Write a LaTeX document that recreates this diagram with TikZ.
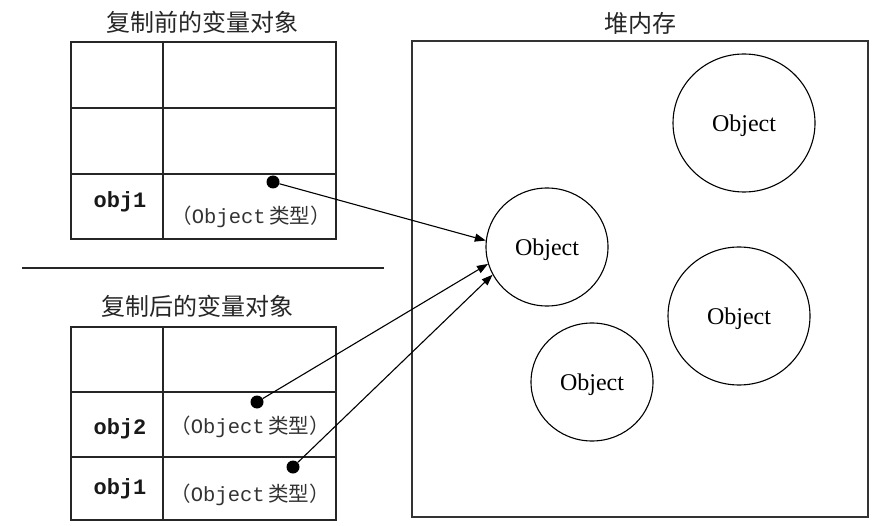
\documentclass[tikz,border=0pt]{standalone}
\usepackage{fontspec}
\setmainfont{Liberation Serif}
\setmonofont{Liberation Mono}
\newfontfamily\cjk{Noto Sans CJK SC}
\usetikzlibrary{positioning,shapes.geometric,arrows.meta}

% type label inside a variable cell
\newcommand{\objtype}{{\cjk （}{\ttfamily Object}\,{\cjk 类型）}}

\begin{document}
\begin{tikzpicture}[x=1pt, y=-1pt,
    grid/.style={line width=1.6pt, draw=black!85},
    title/.style={font=\cjk\fontsize{24}{26}\selectfont, text=black!85},
    varname/.style={font=\ttfamily\bfseries\fontsize{22}{24}\selectfont, text=black!90},
    typelabel/.style={font=\fontsize{20.5}{22}\selectfont, text=black!80, inner sep=0pt},
    pointer/.style={circle, fill=black, inner sep=0pt, minimum size=13pt},
    heapbox/.style={draw=black!80, line width=1.3pt, minimum width=456pt, minimum height=476pt},
    heapobj/.style={ellipse, draw=black, line width=1.1pt, inner sep=0pt, text depth=0pt, font=\fontsize{24}{26}\selectfont},
    bigobj/.style={heapobj, minimum width=142pt, minimum height=138pt},
    smallobj/.style={heapobj, minimum width=122pt, minimum height=118pt},
    ref/.style={-{Triangle[length=11pt, width=8pt]}, line width=1.1pt}
]
    \useasboundingbox (0,0) rectangle (882,526);

    % --- Before copy ---
    \node[title] (before) at (202,22) {复制前的变量对象};
    \draw[grid] (71,42) rectangle (336,239);
    \draw[grid] (163,42) -- (163,239);
    \foreach \y in {108,174} {
        \draw[grid] (71,\y) -- (336,\y);
    }
    \node[varname] (a1) at (120,202) {obj1};
    \node[typelabel] (ta1) at (251,217) {\objtype};
    \node[pointer] (pa1) at (273,182) {};

    % Separator
    \draw[grid] (22,268) -- (384,268);

    % --- After copy ---
    \node[title] (after) at (197,306) {复制后的变量对象};
    \draw[grid] (71,327) rectangle (336,520);
    \draw[grid] (163,327) -- (163,520);
    \foreach \y in {392,457} {
        \draw[grid] (71,\y) -- (336,\y);
    }
    \node[varname] (b2) at (120,429) {obj2};
    \node[typelabel] (tb2) at (250,427) {\objtype};
    \node[pointer] (pb2) at (257,402) {};
    \node[varname] (b1) at (120,489) {obj1};
    \node[typelabel] (tb1) at (250,495) {\objtype};
    \node[pointer] (pb1) at (293,467) {};

    % --- Heap ---
    \node[title] (heaptitle) at (640,23) {堆内存};
    \node[heapbox] (heap) at (640,279) {};
    \node[bigobj] (o1) at (744,123) {Object};
    \node[smallobj] (o2) at (547,247) {Object};
    \node[bigobj] (o3) at (739,316) {Object};
    \node[smallobj] (o4) at (592,382) {Object};

    % References
    \draw[ref] (pa1) -- (o2.174);
    \draw[ref] (pb2) -- (o2.196);
    \draw[ref] (pb1) -- (o2.207);

\end{tikzpicture}
\end{document}
